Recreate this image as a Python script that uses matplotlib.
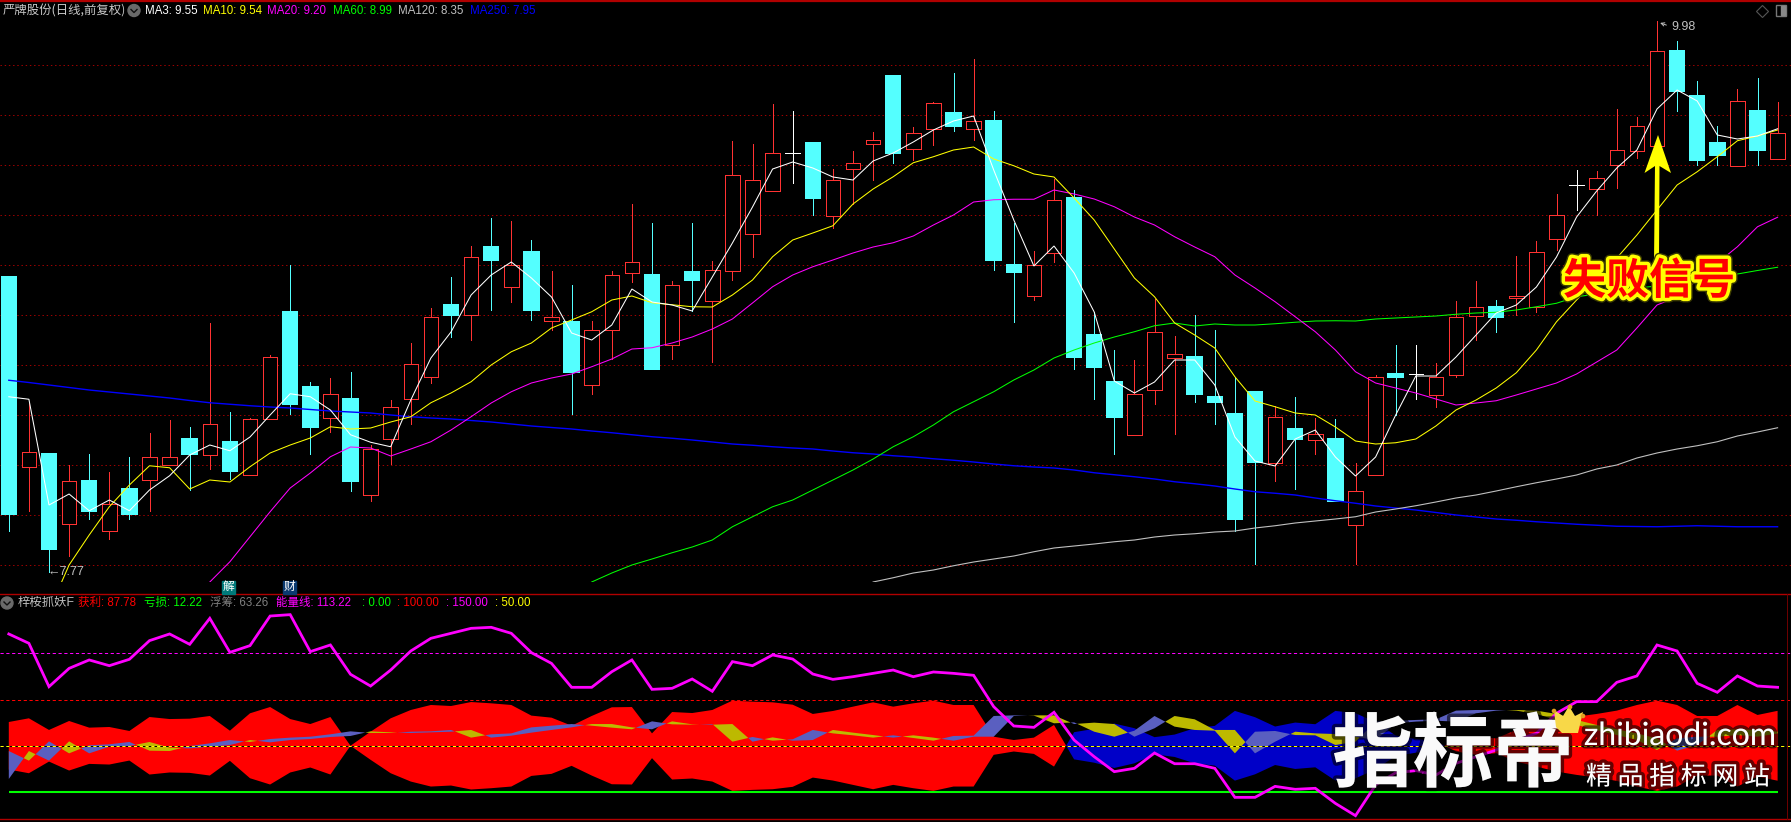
import numpy as np
import matplotlib
matplotlib.use("Agg")
import matplotlib.pyplot as plt
from matplotlib.patches import Polygon, Circle, Rectangle
import matplotlib.patheffects as pe

plt.rcParams['font.family'] = ['Noto Sans CJK SC', 'DejaVu Sans']

nan = float('nan')

opens = [8.952,8.193,8.244,7.963,8.136,7.935,8.104,8.141,8.201,8.304,
         8.241,8.292,8.161,8.383,8.812,8.512,8.389,8.464,8.081,8.303,
         8.463,8.551,8.84,8.799,9.072,8.911,9.052,8.777,8.772,8.521,
         8.739,8.969,8.96,8.679,8.972,8.857,8.977,9.125,9.297,9.447,
         9.488,9.197,9.385,9.485,9.756,9.465,9.545,9.608,9.545,9.576,
         9.0,8.877,9.049,9.268,8.72,8.532,8.321,8.501,8.629,8.632,
         8.472,8.404,8.492,8.209,8.344,8.301,8.304,7.961,8.161,8.564,
         8.563,8.481,8.561,8.797,8.832,8.869,8.831,9.105,9.319,9.305,
         9.399,9.457,9.477,9.856,9.676,9.488,9.397,9.616,9.425]
closes = [8.005,8.251,7.865,8.135,8.016,8.044,8.005,8.231,8.231,8.244,
          8.363,8.176,8.383,8.631,8.444,8.352,8.483,8.136,8.264,8.431,
          8.603,8.791,8.8,9.031,9.02,8.999,8.82,8.791,8.572,8.739,
          8.959,9.011,8.584,8.919,8.94,8.979,9.359,9.339,9.447,9.447,
          9.268,9.339,9.407,9.499,9.448,9.527,9.647,9.556,9.575,9.02,
          8.972,8.999,9.259,8.632,8.592,8.392,8.483,8.731,8.643,8.484,
          8.452,7.984,8.212,8.391,8.304,8.323,8.056,8.095,8.551,8.552,
          8.563,8.551,8.791,8.831,8.792,8.877,9.051,9.199,9.319,9.347,
          9.459,9.555,9.855,9.696,9.42,9.44,9.655,9.46,9.527]
highs = [8.952,8.447,8.244,8.2,8.244,8.172,8.232,8.328,8.38,8.352,
         8.768,8.412,8.388,8.64,9.0,8.532,8.548,8.572,8.28,8.46,
         8.688,8.828,8.952,9.076,9.188,9.176,9.1,8.976,8.92,8.776,
         8.976,9.244,9.168,8.936,9.168,9.016,9.496,9.484,9.644,9.616,
         9.488,9.384,9.456,9.532,9.756,9.552,9.652,9.768,9.824,9.616,
         9.168,9.056,9.344,9.3,8.812,8.66,8.62,8.864,8.716,8.8,
         8.74,8.552,8.492,8.436,8.472,8.388,8.384,8.208,8.56,8.68,
         8.68,8.608,8.856,8.936,8.86,9.036,9.096,9.284,9.38,9.376,
         9.624,9.592,9.977,9.896,9.736,9.556,9.704,9.748,9.652]
lows = [7.937,8.016,7.773,7.837,7.984,7.904,7.984,8.016,8.201,8.1,
        8.184,8.144,8.161,8.383,8.404,8.244,8.332,8.096,8.056,8.204,
        8.364,8.528,8.713,8.7,8.82,8.852,8.78,8.74,8.404,8.484,
        8.624,8.932,8.584,8.624,8.817,8.613,8.94,9.032,9.297,9.328,
        9.2,9.149,9.244,9.34,9.408,9.42,9.48,9.536,9.5,8.98,
        8.772,8.86,9.012,8.584,8.464,8.244,8.321,8.444,8.324,8.452,
        8.364,7.936,7.804,8.136,8.104,8.244,8.056,7.804,8.161,8.4,
        8.465,8.433,8.552,8.7,8.732,8.8,8.812,9.06,9.22,9.2,
        9.308,9.428,9.477,9.616,9.4,9.4,9.397,9.4,9.425]

ma3 = [8.473,8.463,8.04,8.084,8.017,8.06,8.017,8.1,8.157,8.24,
       8.28,8.257,8.312,8.4,8.485,8.473,8.42,8.321,8.291,8.273,
       8.46,8.628,8.732,8.88,8.96,9.012,8.948,8.872,8.728,8.7,
       8.76,8.904,8.852,8.84,8.816,8.952,9.088,9.232,9.384,9.412,
       9.388,9.352,9.34,9.416,9.448,9.492,9.54,9.576,9.596,9.38,
       9.18,8.996,9.076,8.968,8.812,8.536,8.488,8.532,8.62,8.62,
       8.52,8.312,8.216,8.196,8.304,8.34,8.232,8.156,8.232,8.4,
       8.556,8.556,8.632,8.72,8.808,8.84,8.912,9.032,9.192,9.296,
       9.388,9.46,9.624,9.7,9.656,9.52,9.504,9.516,9.545]
ma10 = [nan,nan,7.617,7.8,7.92,8.033,8.12,8.197,8.189,8.104,
        8.14,8.132,8.193,8.248,8.28,8.308,8.353,8.344,8.348,8.372,
        8.393,8.449,8.488,8.533,8.6,8.653,8.688,8.748,8.78,8.813,
        8.86,8.876,8.849,8.841,8.833,8.832,8.88,8.94,9.033,9.1,
        9.128,9.157,9.244,9.304,9.353,9.409,9.433,9.46,9.472,9.424,
        9.397,9.364,9.352,9.268,9.18,9.064,8.948,8.873,8.768,8.72,
        8.668,8.553,8.456,8.433,8.408,8.4,8.352,8.296,8.284,8.289,
        8.304,8.356,8.42,8.46,8.508,8.569,8.66,8.773,8.86,8.94,
        9.028,9.12,9.22,9.32,9.373,9.433,9.497,9.516,9.54]
ma20 = [nan]*10 + [7.732,7.813,7.913,8.013,8.108,8.168,8.233,8.272,8.268,8.236,
        8.264,8.293,8.34,8.393,8.448,8.493,8.528,8.548,8.564,8.593,
        8.624,8.664,8.669,8.688,8.712,8.744,8.784,8.848,8.913,8.96,
        8.993,9.02,9.048,9.072,9.089,9.116,9.16,9.2,9.252,9.261,
        9.263,9.263,9.3,9.284,9.264,9.233,9.192,9.16,9.113,9.072,
        9.033,8.96,8.908,8.853,8.793,8.733,8.66,8.573,8.528,8.508,
        8.488,8.464,8.44,8.448,8.457,8.48,8.504,8.528,8.564,8.612,
        8.66,8.748,8.84,8.872,8.94,9.008,9.073,9.153,9.191]
ma60 = [nan]*29 + [7.732,7.768,7.8,7.824,7.849,7.872,7.9,7.953,7.993,8.033,8.06,
        8.1,8.14,8.18,8.224,8.273,8.313,8.36,8.413,8.453,8.493,
        8.54,8.58,8.628,8.66,8.688,8.712,8.733,8.757,8.768,8.756,
        8.764,8.76,8.76,8.765,8.771,8.776,8.777,8.776,8.784,8.788,
        8.792,8.796,8.803,8.808,8.811,8.82,8.833,8.847,8.873,8.884,
        8.892,8.908,8.916,8.928,8.94,8.952,8.964,8.978,8.991]
ma120 = [nan]*43 + [7.732,7.749,7.768,7.78,7.797,7.812,7.824,
        7.836,7.853,7.868,7.876,7.884,7.893,7.9,7.912,7.92,7.925,
        7.932,7.936,7.948,7.957,7.968,7.976,7.984,7.993,8.012,8.024,
        8.037,8.052,8.068,8.08,8.096,8.113,8.129,8.144,8.16,8.184,
        8.2,8.228,8.248,8.264,8.277,8.293,8.316,8.332,8.349]
ma250 = [8.539,8.53,8.52,8.51,8.5,8.492,8.484,8.476,8.468,8.458,
         8.449,8.443,8.437,8.432,8.428,8.422,8.416,8.412,8.408,8.4,
         8.393,8.388,8.384,8.378,8.372,8.364,8.356,8.35,8.344,8.336,
         8.329,8.321,8.313,8.307,8.3,8.292,8.284,8.279,8.273,8.268,
         8.264,8.256,8.249,8.244,8.237,8.232,8.225,8.219,8.212,8.204,
         8.197,8.192,8.188,8.18,8.169,8.161,8.153,8.144,8.133,8.125,
         8.116,8.104,8.093,8.087,8.08,8.068,8.057,8.047,8.036,8.028,
         8.02,8.01,8.0,7.992,7.984,7.979,7.973,7.968,7.963,7.959,
         7.955,7.954,7.953,7.955,7.957,7.955,7.953,7.953,7.953]
price_grid = [7.8,8.0,8.2,8.4,8.6,8.8,9.0,9.2,9.4,9.6,9.8]

energy = [170.9,160.8,113.9,133.7,142.8,136.6,143.5,163.7,170.9,159.7,
          187.8,151,158.3,190.3,191.8,151.8,159,127.3,114.6,131.9,
          152.5,166.2,171.6,177,178.1,171.6,150.7,139.1,113.2,113.2,
          130.1,142.8,111,112.1,122.2,108.9,141,136.6,148.2,143.8,
          127.6,121.8,124.7,128.3,131.9,124.7,129.8,128.3,126.2,92.3,
          71.4,69.9,86.2,56.2,38.2,22,25.6,42.2,30.6,30.6,
          25.6,-5.8,-5.8,6.1,2.9,4,-12.3,-25.6,7.6,20.9,
          23.1,18.4,31,38.2,45.4,56.2,63.4,85.1,97.7,97.7,
          118.6,125.5,159,152.5,117.5,107.8,125.5,114.6,113.22]
profit = [75.7,79.7,67.1,76.8,69.6,70.3,66,81.1,78.9,79.3,
          82.2,66.3,85.1,91.9,78.9,73.5,81.1,50.0,65.2,79.7,
          88.7,94.1,93,97.3,95.9,94.1,82.6,80.4,71.7,82.2,
          91.6,91.9,63.4,86.5,85.4,88.7,98.8,97.7,97,94.4,
          84.4,87.6,92.3,97,92.3,95.9,98.8,94.1,94.1,59.8,
          56.2,58.8,72.5,35.3,31.7,26,31,40.7,37.9,31,
          28.5,12.3,19.1,29.2,24.9,26.7,12.3,14.8,24.5,38.9,
          42.5,45.4,56.2,59.8,58,67.1,72.5,77.9,81.5,84.4,
          88,94.1,98.8,94.1,82.2,82.2,94.1,83.3,87.78]
float_a = [44.3,33.9,54.8,41.8,50.5,51.6,54.1,44.7,44.3,49.7,
           52.6,56.2,54.1,57.3,58.8,59.8,62.4,65.6,63.8,63.8,
           65.2,65.6,67.1,58.8,62.4,63.4,69.9,71.7,73.5,71.7,
           69.6,67.8,76.4,73.2,72.8,73.5,54.4,59.5,55.5,57,
           67.1,63.4,61.3,58.8,61.3,58.4,55.5,60.6,60.9,82.2,
           82.9,82.6,74.3,75.3,65.2,59.8,66.3,82.2,70.7,67.1,
           66.3,41.8,65.2,66,61.6,61.3,50.8,54.4,76.1,77.1,
           77.9,78.6,88,88.7,88.7,88,84.4,77.9,72.5,67.1,
           61.6,56.2,45.4,58,59.8,59.8,61.6,59.8,63.26]
float_b = [14.1,44.3,33.9,54.8,41.8,49,49.7,54.1,48,47.2,
           49,50.8,56.2,53.7,56.2,57.3,59.5,60.6,65.6,64.5,
           63.8,64.5,65.2,67.1,58.8,60.9,64.2,67.1,69.9,73.5,
           73.5,69.9,67.8,76.4,73.2,72.8,73.5,54.4,59.1,55.5,
           56.2,67.1,64.2,61.6,58.8,61.3,58.8,55.5,59.8,59.8,
           82.2,82.9,82.9,73.5,75,73.5,59.8,68.9,82.2,78.6,
           67.1,67.1,41.8,54.4,65.2,63.4,62.7,59.8,56.2,74.3,
           76.1,77.1,76.1,85.1,88,88.7,88,84.4,77.9,72.5,
           67.8,63.4,58,44.7,50.8,67.1,67.8,67.1,65.2]
indicator_levels = [0, 50, 100, 150]

BG = '#000000'; RED = '#ff3232'; CYAN = '#54ffff'; GRID = '#a00000'; SEP = '#b00000'
W, H = 1791, 822
fig = plt.figure(figsize=(W/100, H/100), dpi=100, facecolor=BG)

x0_px, step_px = 8.8, 20.1
xlim = (-x0_px/step_px, (W-x0_px)/step_px)

# ---- main price panel
main_bottom = 581.7
ax = fig.add_axes([0, 1-main_bottom/H, 1, main_bottom/H], facecolor=BG)
ax.set_xlim(*xlim)
ax.set_ylim(10.06-0.004*main_bottom, 10.06)
ax.axis('off')
ax.hlines(price_grid, xlim[0], 88.9, colors=GRID, linewidth=0.72, linestyles=(0, (1.4, 2.8)), zorder=1)

xs = np.arange(len(opens))
bw = 0.72
for i in xs:
    o, c, h, l = opens[i], closes[i], highs[i], lows[i]
    top, bot = max(o, c), min(o, c)
    col = RED if c > o else (CYAN if c < o else '#ffffff')
    if h > top:
        ax.vlines(i, top, h, colors=col, linewidth=0.7, zorder=2, antialiased=False)
    if l < bot:
        ax.vlines(i, l, bot, colors=col, linewidth=0.7, zorder=2, antialiased=False)
    if c > o:
        ax.bar(i, top-bot, bottom=bot, width=bw, facecolor=BG, edgecolor=RED, linewidth=0.7, zorder=3, antialiased=False)
    elif c < o:
        ax.bar(i, top-bot, bottom=bot, width=bw, facecolor=CYAN, edgecolor=CYAN, linewidth=0.3, zorder=3, antialiased=False)
    else:
        ax.hlines(c, i-bw/2, i+bw/2, colors='#ffffff', linewidth=0.7, zorder=3, antialiased=False)

for series, col, lw in [(ma250, '#0000ff', 1.0), (ma120, '#c0c0c0', 0.8), (ma60, '#00ff00', 0.75),
                        (ma20, '#ff00ff', 0.75), (ma10, '#ffff00', 0.75), (ma3, '#ffffff', 0.75)]:
    ax.plot(xs, series, color=col, linewidth=lw, zorder=4, solid_joinstyle='miter')

# ---- indicator panel
sub_top, sub_bottom = 594.3, 819.3
py = 0.9247
ax2 = fig.add_axes([0, 1-sub_bottom/H, 1, (sub_bottom-sub_top)/H], facecolor=BG)
ax2.set_xlim(*xlim)
ax2.set_ylim((792-sub_bottom)/py, (792-sub_top)/py)
ax2.axis('off')
p = np.array(profit)
ax2.fill_between(xs, p, 100-p, where=p >= 50, interpolate=True, color='#ff0000', linewidth=0, zorder=2)
ax2.fill_between(xs, p, 100-p, where=p <= 50, interpolate=True, color='#0000c8', linewidth=0, zorder=2)
a, b = np.array(float_a), np.array(float_b)
ax2.fill_between(xs, a, b, where=a >= b, interpolate=True, color='#5a5fc0', linewidth=0, zorder=3)
ax2.fill_between(xs, a, b, where=a <= b, interpolate=True, color='#bdb900', linewidth=0, zorder=3)
dash = (0, (3.2, 2.6))
ax2.hlines(indicator_levels[3], xlim[0], 88.9, colors='#ff00ff', linewidth=0.72, linestyles=dash, zorder=4)
ax2.hlines(indicator_levels[2], xlim[0], 88.9, colors='#ff0000', linewidth=0.72, linestyles=dash, zorder=4)
ax2.hlines(indicator_levels[1], xlim[0], 88.9, colors='#000000', linewidth=0.72, zorder=4)
ax2.hlines(indicator_levels[1], xlim[0], 88.9, colors='#ffff00', linewidth=0.72, linestyles=dash, zorder=4)
ax2.hlines(indicator_levels[0], 0, 88, colors='#00ff00', linewidth=1.5, zorder=5)
ax2.plot(xs, energy, color='#ff00ff', linewidth=2.0, zorder=6, solid_joinstyle='miter')

# ---- overlay in pixel coordinates
over = fig.add_axes([0, 0, 1, 1], facecolor='none')
over.set_xlim(0, W); over.set_ylim(H, 0); over.axis('off')
for y_, lw_ in [(0.8, 1.6), (594.3, 1.0), (819.3, 1.0)]:
    over.plot([0, W], [y_, y_], color=SEP, linewidth=lw_)
over.plot([1787, 1787], [594.3, 819.3], color='#700000', linewidth=0.7)

def T(x, y, s, color, size=8.3, **kw):
    kw.setdefault('va', 'center')
    return over.text(x, y, s, color=color, fontsize=size, **kw)

T(3, 10.5, '严牌股份(日线,前复权)', '#c8c8c8', size=8.9)
over.add_patch(Circle((134, 10.5), 6, color='#6a6a6a'))
over.plot([131, 134, 137], [9.5, 12.5, 9.5], color='#111111', linewidth=1)
MONO = ['Liberation Sans', 'Noto Sans CJK SC']
for x_, s, c in [(145, 'MA3: 9.55', '#ffffff'), (203, 'MA10: 9.54', '#ffff00'), (267, 'MA20: 9.20', '#ff00ff'),
                 (333, 'MA60: 8.99', '#00ff00'), (398, 'MA120: 8.35', '#c0c0c0'), (470, 'MA250: 7.95', '#0000ff')]:
    T(x_, 10.5, s, c, family=MONO)

T(47, 572, '←7.77', '#c0c0c0', family=MONO, size=9)
over.annotate('', xy=(1657.5, 22), xytext=(1669, 26),
              arrowprops=dict(arrowstyle='->', color='#c0c0c0', linewidth=0.7, mutation_scale=6))
T(1671, 26.5, '9.98', '#c0c0c0', family=MONO, size=9)

for x_, s, bgc in [(228.5, '解', '#007a7a'), (289.7, '财', '#0a3a70')]:
    over.add_patch(Rectangle((x_-6.5, 580.5), 13, 13, color=bgc, zorder=5))
    T(x_, 586.7, s, '#ffffff', size=8.5, ha='center', zorder=6)

over.add_patch(Circle((7, 603), 6, color='#6a6a6a'))
over.plot([4, 7, 10], [602, 605, 602], color='#111111', linewidth=1)
T(18, 603, '梓桉抓妖F', '#c0c0c0', family=MONO, size=8.9)
for x_, s, c in [(78, '获利: 87.78', '#ff0000'), (144, '亏损: 12.22', '#00ff00'), (210, '浮筹: 63.26', '#808080'),
                 (276, '能量线: 113.22', '#ff00ff'), (362, ': 0.00', '#00ff00'), (397, ': 100.00', '#ff0000'),
                 (446, ': 150.00', '#ff00ff'), (495, ': 50.00', '#ffff00')]:
    T(x_, 603, s, c, family=MONO)

# top-right icons
over.plot([1762], [10.7], marker='D', markersize=6, markerfacecolor='none', markeredgecolor='#555555', markeredgewidth=0.8)
over.add_patch(Rectangle((1776, 5), 10, 11, fill=False, edgecolor='#777777', linewidth=1))
over.add_patch(Rectangle((1781, 6), 4, 9, color='#888888'))

# annotation arrow
over.add_patch(Polygon([(1658, 135), (1671, 173), (1659.5, 166), (1659, 262), (1654, 262), (1655, 166), (1644.5, 173)],
                       closed=True, facecolor='#ffff00', edgecolor='none', zorder=7))
T(1649, 281, '失败信号', '#ff0000', size=31, ha='center', fontweight='bold', zorder=8,
  path_effects=[pe.withStroke(linewidth=7, foreground='#3a3a00'), pe.withStroke(linewidth=5, foreground='#ffff00')])

# watermark
shadow = [pe.withStroke(linewidth=5, foreground='#00000099')]
T(1453, 757, '指标帝', '#fafafa', size=58, ha='center', fontweight='bold', zorder=8, path_effects=shadow)
T(1680, 736, 'zhibiaodi.com', '#ffffff', size=23, ha='center', family=['Lato', 'DejaVu Sans'], zorder=8, path_effects=shadow)
T(1678, 777, '精 品 指 标 网 站', '#ffffff', size=18.6, ha='center', zorder=8, path_effects=shadow)
over.add_patch(Polygon([(1556, 727), (1554, 710), (1563, 716), (1569, 706), (1575, 716), (1583, 712), (1578, 733), (1562, 733)],
                       closed=True, facecolor='#f8d848', edgecolor='none', zorder=9))
for cx, cy in [(1554, 711), (1570, 707), (1583, 716)]:
    over.add_patch(Circle((cx, cy), 1.6, color='#e0a020', zorder=9))
over.add_patch(Polygon([(1434, 711), (1428, 726), (1441, 726)], closed=True, facecolor='#fafafa', edgecolor='none', zorder=9))

fig.savefig('out.png', dpi=100, facecolor=BG)
